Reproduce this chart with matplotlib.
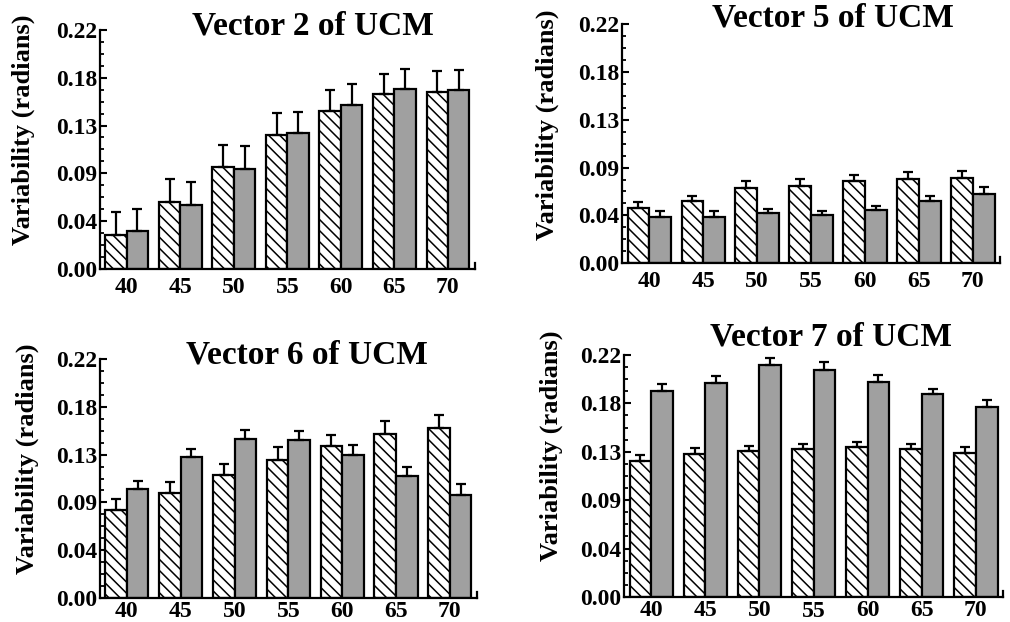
import matplotlib
matplotlib.use('Agg')
from matplotlib import pyplot as plt
from matplotlib import transforms
import numpy as np

plt.rcParams['font.family'] = ['Liberation Serif', 'DejaVu Serif']
plt.rcParams['font.weight'] = 'bold'
plt.rcParams['hatch.linewidth'] = 1.1

ages = ['40', '45', '50', '55', '60', '65', '70']

# vector 2
v2_hatch = [0.0316, 0.0616, 0.0934, 0.1229, 0.1458, 0.1608, 0.1630]
v2_hatch_err = [0.0204, 0.0211, 0.0209, 0.0205, 0.0190, 0.0184, 0.0187]
v2_gray = [0.0346, 0.0591, 0.0919, 0.1247, 0.1507, 0.1654, 0.1645]
v2_gray_err = [0.0204, 0.0209, 0.0215, 0.0199, 0.0196, 0.0190, 0.0187]

# vector 5
v5_hatch = [0.0506, 0.0573, 0.0689, 0.0711, 0.0757, 0.0778, 0.0787]
v5_hatch_err = [0.0061, 0.0049, 0.0071, 0.0064, 0.0058, 0.0061, 0.0059]
v5_gray = [0.0423, 0.0429, 0.0457, 0.0441, 0.0487, 0.0573, 0.0634]
v5_gray_err = [0.0061, 0.0052, 0.0039, 0.0043, 0.0043, 0.0049, 0.0065]

# vector 6
v6_hatch = [0.0810, 0.0967, 0.1135, 0.1267, 0.1399, 0.1510, 0.1565]
v6_hatch_err = [0.0098, 0.0098, 0.0099, 0.0120, 0.0105, 0.0122, 0.0117]
v6_gray = [0.1003, 0.1301, 0.1461, 0.1451, 0.1316, 0.1123, 0.0951]
v6_gray_err = [0.0077, 0.0074, 0.0085, 0.0086, 0.0089, 0.0080, 0.0098]

# vector 7
v7_hatch = [0.1237, 0.1297, 0.1325, 0.1349, 0.1367, 0.1346, 0.1313]
v7_hatch_err = [0.0051, 0.0055, 0.0051, 0.0040, 0.0043, 0.0049, 0.0054]
v7_gray = [0.1869, 0.1942, 0.2109, 0.2063, 0.1957, 0.1841, 0.1723]
v7_gray_err = [0.0067, 0.0067, 0.0064, 0.0070, 0.0058, 0.0049, 0.0070]

panels = [
    ( 'Vector 2 of UCM' , v2_hatch , v2_hatch_err , v2_gray , v2_gray_err ,
      [ 0.099 , 0.5675 , 0.371 , 0.3845 ] , ( 313 , 26 ) , ( 23 , 130 ) ) ,
    ( 'Vector 5 of UCM' , v5_hatch , v5_hatch_err , v5_gray , v5_gray_err ,
      [ 0.616 , 0.577 , 0.374 , 0.384 ] , ( 833 , 18 ) , ( 547 , 125 ) ) ,
    ( 'Vector 6 of UCM' , v6_hatch , v6_hatch_err , v6_gray , v6_gray_err ,
      [ 0.099 , 0.0386 , 0.373 , 0.3842 ] , ( 307 , 355 ) , ( 27 , 459 ) ) ,
    ( 'Vector 7 of UCM' , v7_hatch , v7_hatch_err , v7_gray , v7_gray_err ,
      [ 0.618 , 0.0402 , 0.375 , 0.3891 ] , ( 831 , 337 ) , ( 551 , 446 ) ) ,
]

W , H = 1010 , 622
fig = plt.figure( figsize = ( W / 100 , H / 100 ) , dpi = 100 )

x = np.arange( len( ages ) )
wd = 0.4
err_kw = dict( ecolor = 'k' , elinewidth = 1.6 , capsize = 3.5 , capthick = 1.6 )

for k , ( title , hv , he , gv , ge , rect , tpos , lpos ) in enumerate( panels ) :

    ax = fig.add_axes( rect )

    ax.bar( x - wd / 2 , hv , wd , yerr = [ np.zeros( len( he ) ) , he ] ,
            facecolor = 'white' , edgecolor = 'k' , linewidth = 1.6 , hatch = '\\' * 3 ,
            error_kw = err_kw , zorder = 2 )
    ax.bar( x + wd / 2 , gv , wd , yerr = [ np.zeros( len( ge ) ) , ge ] ,
            facecolor = '#a0a0a0' , edgecolor = 'k' , linewidth = 1.6 ,
            error_kw = err_kw , zorder = 2 )

    ax.set_xlim( -0.5 , 6.5 )
    ax.set_ylim( 0 , 0.22 )

    ax.set_yticks( np.linspace( 0 , 0.22 , 6 ) )
    ax.set_yticks( np.linspace( 0 , 0.22 , 21 ) , minor = True )
    ax.yaxis.set_major_formatter( plt.FormatStrFormatter( '%.2f' ) )
    ax.tick_params( axis = 'y' , which = 'major' , direction = 'in' , length = 5 , width = 1.5 , pad = 2 , labelsize = 17 )
    ax.tick_params( axis = 'y' , which = 'minor' , direction = 'in' , length = 3 , width = 1.3 )

    ax.set_xticks( x )
    ax.set_xticklabels( ages )
    ax.tick_params( axis = 'x' , length = 0 , pad = 6 if k < 2 else 2 , labelsize = 17 )

    for lab in ax.get_yticklabels( ) + ax.get_xticklabels( ) :
        lab.set_fontweight( 'bold' )

    ax.spines[ 'top' ].set_visible( False )
    ax.spines[ 'right' ].set_visible( False )
    ax.spines[ 'left' ].set_linewidth( 1.6 )
    ax.spines[ 'bottom' ].set_linewidth( 1.6 )

    # little upturn at the right end of the base line
    ax.plot( [ 1 , 1 ] , [ 0 , 0.025 ] , transform = ax.transAxes , color = 'k' , linewidth = 1.6 , clip_on = False )

    if k == 3 :
        # the "55" label sits lower in the original
        lab = ax.get_xticklabels( )[ 3 ]
        lab.set_transform( lab.get_transform( ) + transforms.ScaledTranslation( 0 , -1.5 / 100 , fig.dpi_scale_trans ) )

    fig.text( tpos[ 0 ] / W , 1 - tpos[ 1 ] / H , title , ha = 'center' , va = 'center' , fontsize = 24 , fontweight = 'bold' )
    fig.text( lpos[ 0 ] / W , 1 - lpos[ 1 ] / H , 'Variability (radians)' , ha = 'center' , va = 'center' ,
              rotation = 90 , fontsize = 19 , fontweight = 'bold' )

fig.savefig( 'out.png' , dpi = 100 )
